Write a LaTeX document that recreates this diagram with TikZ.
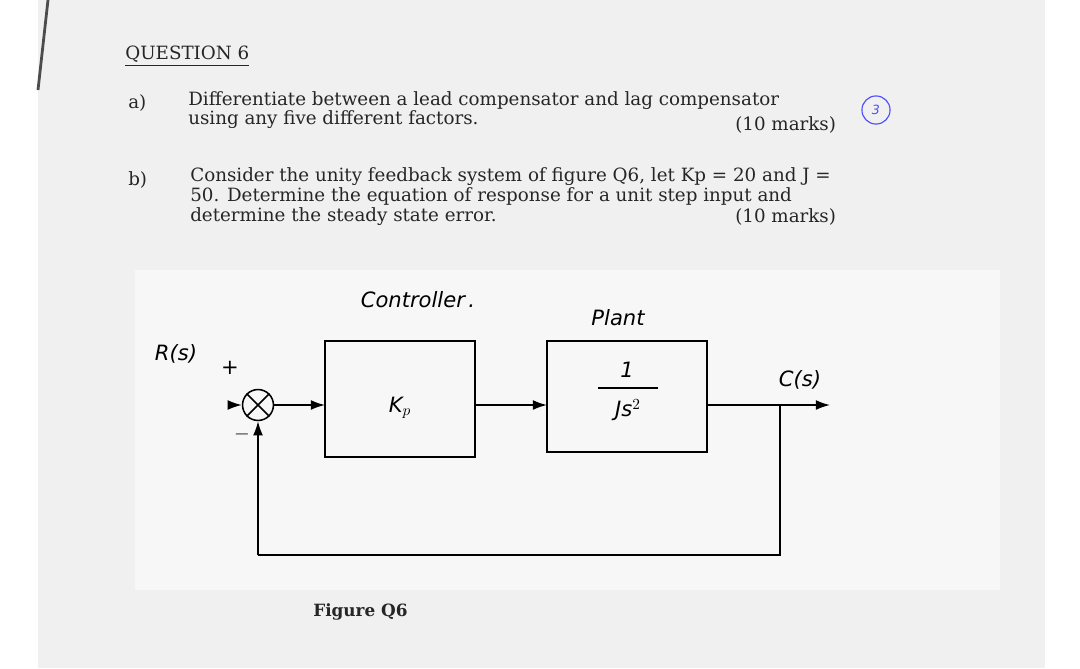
\documentclass[tikz,border=0pt]{standalone}
\usepackage{fontspec}
\setmainfont{DejaVu Serif}
\newfontfamily\hand{DejaVu Sans}
\usetikzlibrary{arrows.meta}
\begin{document}
\begin{tikzpicture}[x=0.25mm,y=-0.25mm,
  txt/.style={anchor=west,inner sep=0,font=\fontsize{13}{14}\selectfont,text=black!85},
  hw/.style={inner sep=0,font=\hand\itshape\fontsize{15}{16}\selectfont},
  sig/.style={line width=1.1pt,-{Latex[length=10pt,width=7pt]}},
  wire/.style={line width=1.1pt}]
\useasboundingbox (0,0) rectangle (1080,668);
\fill[white] (0,0) rectangle (1080,668);
\fill[black!6] (38,0) rectangle (1045,668);
\fill[black!3] (135,270) rectangle (1000,590);
\draw[line width=2pt,black!70] (48,0) -- (38,90);
% text
\node[txt] (q) at (125,56) {\underline{QUESTION 6}};
\node[txt] (a) at (128,103) {a)};
\node[txt] (a1) at (188,101) {Differentiate between a lead compensator and lag compensator};
\node[txt] (a2) at (188,120) {using any five different factors.};
\node[txt] (a3) at (735,125) {(10 marks)};
\node[draw=blue!70,line width=0.8pt,circle,minimum size=20pt,inner sep=0,text=blue!70,font=\hand\itshape\small] (c3) at (876,110) {3};
\node[txt] (b) at (128,180) {b)};
\node[txt] (b1) at (190,177) {Consider the unity feedback system of figure Q6, let Kp = 20 and J =};
\node[txt] (b2) at (190,196) {50. Determine the equation of response for a unit step input and};
\node[txt] (b3) at (190,217) {determine the steady state error.};
\node[txt] (b4) at (735,217) {(10 marks)};
% diagram
\node[hw] (ctl) at (418,300) {Controller\,.};
\node[hw] (pl) at (618,318) {Plant};
\draw[line width=1.1pt] (325,341) rectangle (475,457);
\coordinate (Kw) at (325,405); \coordinate (Ke) at (475,405);
\node[hw] (kp) at (400,408) {K$_{p}$};
\draw[line width=1.1pt] (547,341) rectangle (707,452);
\coordinate (Pw) at (547,405); \coordinate (Pe) at (707,405);
\node[hw] (num) at (627,370) {1};
\draw[line width=1.1pt] (598,388) -- (658,388);
\node[hw] (den) at (628,410) {Js$^2$};
\node[draw,line width=1.1pt,circle,minimum size=22pt,inner sep=0] (sum) at (258,405) {};
\draw[line width=1.1pt] (sum.north west) -- (sum.south east) (sum.north east) -- (sum.south west);
\node[hw] (R) at (176,354) {R(s)};
\node[hw] (plus) at (230,368) {+};
\node[hw] (minus) at (242,434) {$-$};
\node[hw] (C) at (800,380) {C(s)};
\coordinate (in) at (232,405);
\draw[sig] (in) -- (sum.west);
\draw[sig] (sum.east) -- (Kw);
\draw[sig] (Ke) -- (Pw);
\coordinate (out) at (830,405);
\coordinate (tap) at (780,405);
\coordinate (fb1) at (780,555);
\coordinate (fb2) at (258,555);
\draw[sig] (Pe) -- (out);
\draw[wire] (tap) -- (fb1) -- (fb2);
\draw[sig] (fb2) -- (sum.south);
\node[txt,font=\bfseries\fontsize{12}{13}\selectfont] (fig) at (313,612) {Figure Q6};
\end{tikzpicture}
\end{document}
